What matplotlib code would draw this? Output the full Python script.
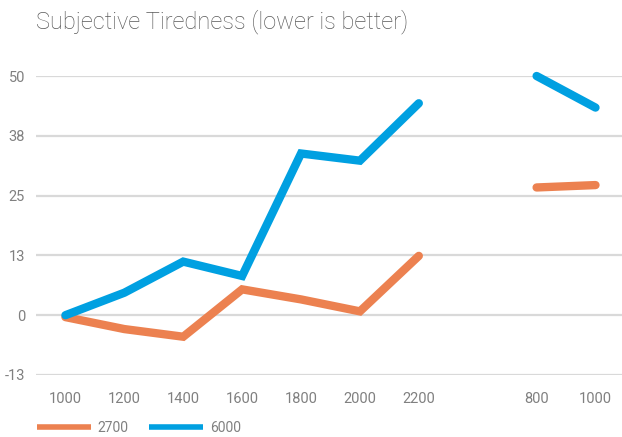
import numpy as np
import matplotlib
matplotlib.use("Agg")
import matplotlib.pyplot as plt
from matplotlib.lines import Line2D

categories = ["1000", "1200", "1400", "1600", "1800", "2000", "2200", "", "800", "1000"]
series_2700 = [-0.4, -2.9, -4.5, 5.4, 3.3, 0.8, 12.4, None, 26.7, 27.2]
series_6000 = [0.0, 4.7, 11.2, 8.2, 33.8, 32.3, 44.3, None, 50.0, 43.4]
y_ticks = [-12.5, 0, 12.5, 25, 37.5, 50]
y_tick_labels = ["-13", "0", "13", "25", "38", "50"]
series_names = ["2700", "6000"]
colors = ["#EC8150", "#00A0E1"]

plt.rcParams['font.family'] = ['Roboto', 'DejaVu Sans']

W, H = 622, 437
fig = plt.figure(figsize=(W / 100, H / 100), dpi=100)
ax = fig.add_axes([36 / W, (H - 375) / H, (622 - 36) / W, (375 - 76) / H])

x = np.arange(len(categories))
for vals, col in zip([series_2700, series_6000], colors):
    y = np.array([np.nan if v is None else v for v in vals], dtype=float)
    ax.plot(x, y, color=col, lw=6, solid_capstyle='round', solid_joinstyle='miter',
            clip_on=False, zorder=3)

ax.set_xlim(-0.5, 9.45)
ax.set_ylim(-12.5, 50)
ax.set_yticks(y_ticks)
ax.set_yticklabels(y_tick_labels)
ax.set_xticks(x)
ax.set_xticklabels(categories)
ax.grid(axis='y', color='#D9D9D9', lw=1.6, zorder=0)
ax.grid(axis='x', visible=False)
for s in ax.spines.values():
    s.set_visible(False)
ax.tick_params(axis='both', length=0, colors='#808080', labelsize=10.5)
ax.tick_params(axis='y', pad=8)
ax.tick_params(axis='x', pad=12)

fig.text(36 / W, 1 - 22 / H, "Subjective Tiredness (lower is better)", fontsize=17,
         color='#595959', fontweight='light', va='center', ha='left')

handles = [Line2D([], [], color=c, lw=4, solid_capstyle='butt') for c in colors]
leg = fig.legend(handles, series_names, loc='center left',
                 bbox_to_anchor=(37 / W, 1 - 428 / H), ncol=2, frameon=False,
                 fontsize=10, handlelength=3.9, handletextpad=0.45,
                 columnspacing=1.5, borderaxespad=0, borderpad=0,
                 handleheight=0.7)
for t in leg.get_texts():
    t.set_color('#808080')

fig.savefig("out.png", dpi=100)
